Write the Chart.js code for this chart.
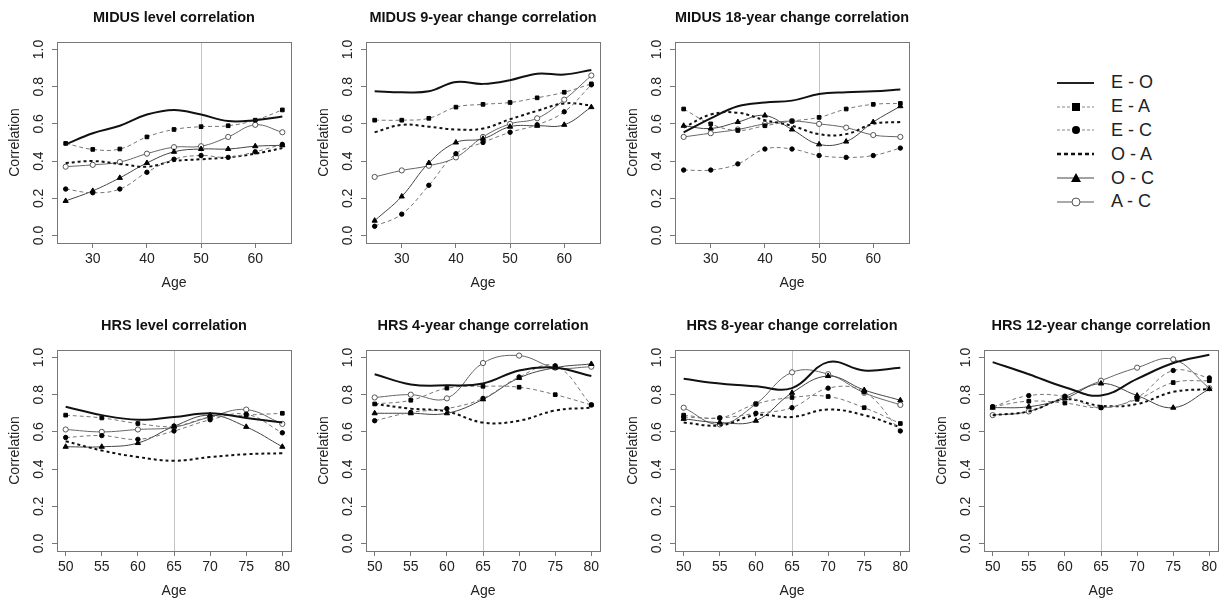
<!DOCTYPE html>
<html>
<head>
<meta charset="utf-8">
<script src="https://cdn.jsdelivr.net/npm/chart.js@4.4.1/dist/chart.umd.min.js"></script>
<style>
html, body { margin: 0; padding: 0; background: #fff; overflow: hidden; }
body { width: 1222px; height: 601px; position: relative; font-family: "Liberation Sans", Arial, sans-serif; }
.panel { position: absolute; }
#legend { position: absolute; left: 1057px; top: 71px; }
.row { height: 23.8px; display: flex; align-items: center; font-size: 18px; color: #222; }
.row svg { margin-right: 17px; }
</style>
</head>
<body>
<div id="legend"></div>
<script>
const midusAges = [25, 30, 35, 40, 45, 50, 55, 60, 65];
const hrsAges = [50, 55, 60, 65, 70, 75, 80];
const pairLabels = ['E - O', 'E - A', 'E - C', 'O - A', 'O - C', 'A - C'];
const yTicks = [0, 0.2, 0.4, 0.6, 0.8, 1.0];
const midusTicks = [30, 40, 50, 60];
const hrsTicks = [50, 55, 60, 65, 70, 75, 80];

// MIDUS level correlation
const midusLevelEO = [0.49, 0.55, 0.59, 0.65, 0.675, 0.65, 0.615, 0.62, 0.64];
const midusLevelEA = [0.495, 0.463, 0.465, 0.53, 0.57, 0.585, 0.59, 0.62, 0.675];
const midusLevelEC = [0.25, 0.23, 0.25, 0.34, 0.41, 0.43, 0.42, 0.45, 0.49];
const midusLevelOA = [0.39, 0.40, 0.385, 0.37, 0.40, 0.41, 0.42, 0.44, 0.47];
const midusLevelOC = [0.186, 0.24, 0.31, 0.39, 0.45, 0.465, 0.465, 0.48, 0.485];
const midusLevelAC = [0.37, 0.38, 0.395, 0.44, 0.475, 0.48, 0.53, 0.595, 0.555];

// MIDUS 9-year change correlation
const midus9EO = [0.775, 0.77, 0.775, 0.825, 0.815, 0.835, 0.87, 0.865, 0.89];
const midus9EA = [0.62, 0.62, 0.63, 0.69, 0.705, 0.715, 0.74, 0.77, 0.815];
const midus9EC = [0.05, 0.115, 0.27, 0.44, 0.50, 0.555, 0.595, 0.665, 0.81];
const midus9OA = [0.555, 0.595, 0.585, 0.57, 0.575, 0.625, 0.67, 0.71, 0.70];
const midus9OC = [0.08, 0.21, 0.39, 0.50, 0.52, 0.585, 0.59, 0.595, 0.69];
const midus9AC = [0.315, 0.35, 0.375, 0.42, 0.53, 0.60, 0.63, 0.73, 0.86];

// MIDUS 18-year change correlation
const midus18EO = [0.555, 0.63, 0.695, 0.715, 0.725, 0.76, 0.77, 0.775, 0.785];
const midus18EA = [0.68, 0.60, 0.565, 0.59, 0.615, 0.635, 0.68, 0.705, 0.71];
const midus18EC = [0.352, 0.352, 0.385, 0.465, 0.465, 0.43, 0.42, 0.43, 0.47];
const midus18OA = [0.58, 0.65, 0.66, 0.62, 0.59, 0.545, 0.545, 0.60, 0.61];
const midus18OC = [0.59, 0.575, 0.61, 0.645, 0.57, 0.49, 0.505, 0.61, 0.695];
const midus18AC = [0.53, 0.55, 0.57, 0.60, 0.615, 0.60, 0.58, 0.54, 0.53];

// HRS level correlation
const hrsLevelEO = [0.735, 0.69, 0.665, 0.68, 0.70, 0.675, 0.65];
const hrsLevelEA = [0.69, 0.675, 0.645, 0.63, 0.68, 0.69, 0.70];
const hrsLevelEC = [0.57, 0.58, 0.56, 0.605, 0.665, 0.695, 0.595];
const hrsLevelOA = [0.55, 0.50, 0.465, 0.445, 0.465, 0.48, 0.485];
const hrsLevelOC = [0.52, 0.52, 0.54, 0.63, 0.69, 0.627, 0.52];
const hrsLevelAC = [0.613, 0.60, 0.613, 0.625, 0.68, 0.72, 0.643];

// HRS 4-year change correlation
const hrs4EO = [0.91, 0.855, 0.85, 0.86, 0.93, 0.945, 0.90];
const hrs4EA = [0.75, 0.77, 0.835, 0.845, 0.84, 0.80, 0.745];
const hrs4EC = [0.66, 0.705, 0.725, 0.78, 0.895, 0.955, 0.745];
const hrs4OA = [0.75, 0.725, 0.71, 0.65, 0.66, 0.715, 0.73];
const hrs4OC = [0.70, 0.70, 0.70, 0.775, 0.89, 0.945, 0.965];
const hrs4AC = [0.785, 0.80, 0.78, 0.97, 1.01, 0.945, 0.95];

// HRS 8-year change correlation
const hrs8EO = [0.885, 0.86, 0.845, 0.835, 0.975, 0.93, 0.945];
const hrs8EA = [0.69, 0.675, 0.75, 0.785, 0.79, 0.73, 0.645];
const hrs8EC = [0.68, 0.675, 0.70, 0.73, 0.835, 0.815, 0.605];
const hrs8OA = [0.65, 0.635, 0.69, 0.68, 0.72, 0.69, 0.625];
const hrs8OC = [0.67, 0.65, 0.66, 0.81, 0.90, 0.825, 0.77];
const hrs8AC = [0.73, 0.64, 0.75, 0.92, 0.91, 0.81, 0.745];

// HRS 12-year change correlation
const hrs12EO = [0.975, 0.91, 0.84, 0.795, 0.885, 0.97, 1.015];
const hrs12EA = [0.735, 0.765, 0.755, 0.73, 0.775, 0.865, 0.875];
const hrs12EC = [0.735, 0.795, 0.79, 0.73, 0.785, 0.93, 0.89];
const hrs12OA = [0.69, 0.71, 0.775, 0.74, 0.75, 0.815, 0.83];
const hrs12OC = [0.73, 0.735, 0.78, 0.86, 0.795, 0.73, 0.83];
const hrs12AC = [0.69, 0.71, 0.79, 0.875, 0.945, 0.99, 0.835];

const FONT = '"Liberation Sans", Arial, sans-serif';

// line look for each pair, same order as pairLabels
const seriesStyles = [
    { borderColor: '#111', borderWidth: 2, pointRadius: 0 },
    { borderColor: '#777', borderWidth: 1, borderDash: [4, 3], pointStyle: 'rect', pointRadius: 2.6, pointBackgroundColor: '#000', pointBorderColor: '#000' },
    { borderColor: '#777', borderWidth: 1, borderDash: [4, 3], pointStyle: 'circle', pointRadius: 2.2, pointBackgroundColor: '#000', pointBorderColor: '#000' },
    { borderColor: '#111', borderWidth: 2, borderDash: [3, 3], pointRadius: 0 },
    { borderColor: '#444', borderWidth: 1, pointStyle: 'triangle', pointRadius: 3, pointBackgroundColor: '#000', pointBorderColor: '#000' },
    { borderColor: '#666', borderWidth: 1, pointStyle: 'circle', pointRadius: 2.6, pointBackgroundColor: '#fff', pointBorderColor: '#555' }
];

const panels = [
    { title: 'MIDUS level correlation', ages: midusAges, ticks: midusTicks, ref: 50, left: 0, top: 0,
      series: [midusLevelEO, midusLevelEA, midusLevelEC, midusLevelOA, midusLevelOC, midusLevelAC] },
    { title: 'MIDUS 9-year change correlation', ages: midusAges, ticks: midusTicks, ref: 50, left: 309, top: 0,
      series: [midus9EO, midus9EA, midus9EC, midus9OA, midus9OC, midus9AC] },
    { title: 'MIDUS 18-year change correlation', ages: midusAges, ticks: midusTicks, ref: 50, left: 618, top: 0,
      series: [midus18EO, midus18EA, midus18EC, midus18OA, midus18OC, midus18AC] },
    { title: 'HRS level correlation', ages: hrsAges, ticks: hrsTicks, ref: 65, left: 0, top: 308,
      series: [hrsLevelEO, hrsLevelEA, hrsLevelEC, hrsLevelOA, hrsLevelOC, hrsLevelAC] },
    { title: 'HRS 4-year change correlation', ages: hrsAges, ticks: hrsTicks, ref: 65, left: 309, top: 308,
      series: [hrs4EO, hrs4EA, hrs4EC, hrs4OA, hrs4OC, hrs4AC] },
    { title: 'HRS 8-year change correlation', ages: hrsAges, ticks: hrsTicks, ref: 65, left: 618, top: 308,
      series: [hrs8EO, hrs8EA, hrs8EC, hrs8OA, hrs8OC, hrs8AC] },
    { title: 'HRS 12-year change correlation', ages: hrsAges, ticks: hrsTicks, ref: 65, left: 927, top: 308,
      series: [hrs12EO, hrs12EA, hrs12EC, hrs12OA, hrs12OC, hrs12AC] }
];

// grey reference line and the R-style box around the plot
const rFrame = {
    id: 'rFrame',
    beforeDatasetsDraw(chart, args, opts) {
        const { ctx, chartArea: a, scales } = chart;
        const px = Math.round(scales.x.getPixelForValue(opts.ref)) + 0.5;
        ctx.save();
        ctx.strokeStyle = '#c4c4c4';
        ctx.lineWidth = 1;
        ctx.beginPath();
        ctx.moveTo(px, a.top);
        ctx.lineTo(px, a.bottom);
        ctx.stroke();
        ctx.restore();
    },
    afterDraw(chart) {
        const { ctx, chartArea: a } = chart;
        ctx.save();
        ctx.strokeStyle = '#777';
        ctx.lineWidth = 1;
        ctx.strokeRect(Math.round(a.left) + 0.5, Math.round(a.top) + 0.5, Math.round(a.right - a.left), Math.round(a.bottom - a.top));
        ctx.restore();
    }
};

function makePanel(p) {
    const div = document.createElement('div');
    div.className = 'panel';
    div.style.left = p.left + 'px';
    div.style.top = p.top + 'px';
    const canvas = document.createElement('canvas');
    canvas.width = 296;
    canvas.height = 293;
    canvas.style.width = '296px';
    canvas.style.height = '293px';
    div.appendChild(canvas);
    document.body.appendChild(div);

    const span = p.ages[p.ages.length - 1] - p.ages[0];
    const pad = span * 0.04;

    new Chart(canvas, {
        type: 'line',
        data: {
            datasets: p.series.map((vals, i) => Object.assign({
                label: pairLabels[i],
                data: vals.map((v, j) => ({ x: p.ages[j], y: v })),
                fill: false,
                tension: 0.4,
                clip: 2
            }, seriesStyles[i]))
        },
        options: {
            responsive: false,
            animation: false,
            devicePixelRatio: 1,
            layout: { padding: { left: 0, right: 3, top: 0, bottom: 0 } },
            plugins: {
                legend: { display: false },
                tooltip: { enabled: false },
                title: {
                    display: true,
                    fullSize: false,
                    text: p.title,
                    color: '#111',
                    font: { family: FONT, size: 14.5, weight: 'bold' },
                    padding: { top: 9.3, bottom: 15.3 }
                },
                rFrame: { ref: p.ref }
            },
            scales: {
                x: {
                    type: 'linear',
                    min: p.ages[0] - pad,
                    max: p.ages[p.ages.length - 1] + pad,
                    afterBuildTicks: s => { s.ticks = p.ticks.map(v => ({ value: v })); },
                    afterFit: s => { s.height = 50; },
                    border: { display: false },
                    grid: { drawOnChartArea: false, tickLength: 5, tickColor: '#777' },
                    ticks: { color: '#222', font: { family: FONT, size: 14 }, padding: 3, maxRotation: 0, autoSkip: false },
                    title: { display: true, text: 'Age', color: '#222', font: { family: FONT, size: 14 }, padding: { top: 0, bottom: 1.6 } }
                },
                y: {
                    type: 'linear',
                    min: -0.04,
                    max: 1.04,
                    afterBuildTicks: s => { s.ticks = yTicks.map(v => ({ value: v })); },
                    afterFit: s => { s.width = 57; },
                    border: { display: false },
                    grid: { drawOnChartArea: false, tickLength: 5, tickColor: '#777' },
                    ticks: {
                        color: '#222', font: { family: FONT, size: 14 }, padding: 3,
                        minRotation: 90, maxRotation: 90, crossAlign: 'center',
                        callback: v => v.toFixed(1)
                    },
                    title: { display: true, text: 'Correlation', color: '#222', font: { family: FONT, size: 14 }, padding: { top: 6.6, bottom: 0 } }
                }
            }
        },
        plugins: [rFrame]
    });
}

panels.forEach(makePanel);

// legend on the right of the top row
const legendSamples = [
    '<line x1="0" y1="7" x2="37" y2="7" stroke="#222" stroke-width="2"/>',
    '<line x1="0" y1="7" x2="37" y2="7" stroke="#888" stroke-width="1" stroke-dasharray="3 2"/><rect x="15" y="3" width="8" height="8" fill="#000"/>',
    '<line x1="0" y1="7" x2="37" y2="7" stroke="#888" stroke-width="1" stroke-dasharray="3 2"/><circle cx="19" cy="7" r="4" fill="#000"/>',
    '<line x1="0" y1="7" x2="37" y2="7" stroke="#111" stroke-width="2.5" stroke-dasharray="4 3"/>',
    '<line x1="0" y1="7" x2="37" y2="7" stroke="#444" stroke-width="1"/><path d="M19 2 L24 11 L14 11 Z" fill="#000"/>',
    '<line x1="0" y1="7" x2="37" y2="7" stroke="#555" stroke-width="1"/><circle cx="19" cy="7" r="4" fill="#fff" stroke="#555" stroke-width="1"/>'
];
const legend = document.getElementById('legend');
pairLabels.forEach((label, i) => {
    const row = document.createElement('div');
    row.className = 'row';
    row.innerHTML = '<svg width="37" height="14">' + legendSamples[i] + '</svg><span>' + label + '</span>';
    legend.appendChild(row);
});
</script>
</body>
</html>
